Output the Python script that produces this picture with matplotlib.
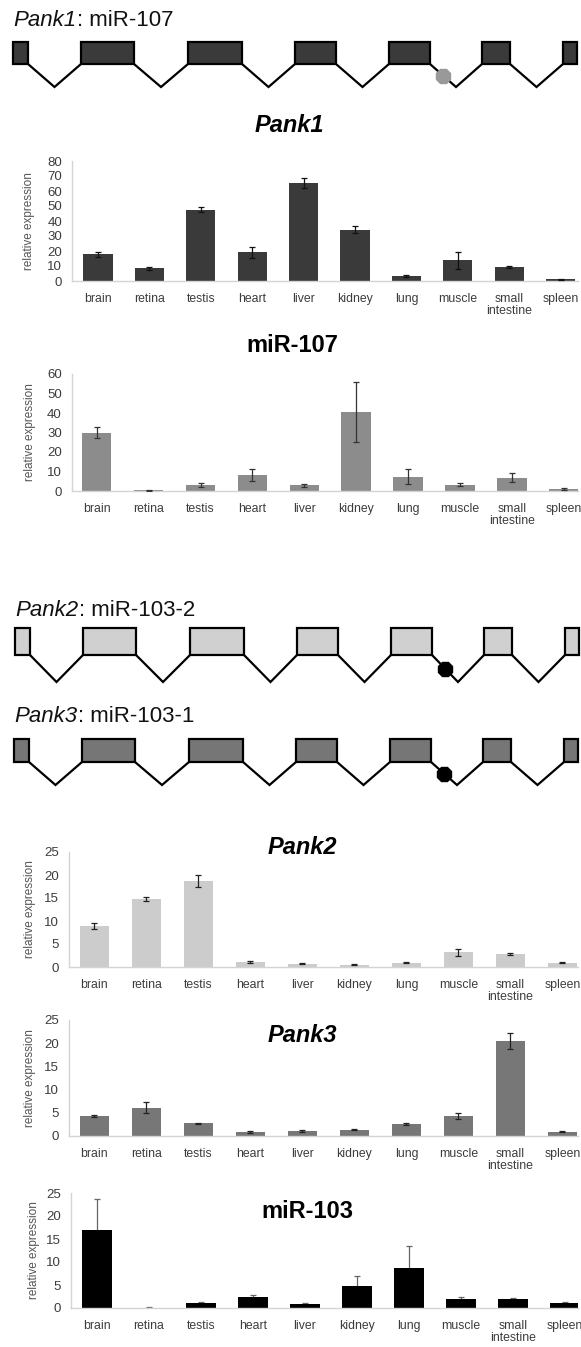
import matplotlib
matplotlib.use('Agg')
import matplotlib.pyplot as plt
from matplotlib.patches import Rectangle
import numpy as np

plt.rcParams['font.family'] = ['Liberation Sans', 'DejaVu Sans']

# data
tissues = ['brain', 'retina', 'testis', 'heart', 'liver', 'kidney', 'lung',
           'muscle', 'small\nintestine', 'spleen']

pank1 = [17.8, 8.6, 47.5, 19.1, 65.5, 34.3, 3.3, 13.8, 9.2, 1.1]
pank1_err = [1.8, 1.0, 1.8, 3.6, 3.3, 2.2, 0.5, 5.7, 0.5, 0.3]

mir107 = [30.0, 0.3, 3.1, 8.1, 2.9, 40.5, 7.4, 3.3, 6.9, 1.0]
mir107_err = [2.9, 0.2, 0.8, 3.1, 0.7, 15.2, 3.9, 0.8, 2.3, 0.3]

pank2 = [8.9, 14.8, 18.6, 1.1, 0.7, 0.45, 0.95, 3.2, 2.8, 0.95]
pank2_err = [0.7, 0.5, 1.3, 0.2, 0.15, 0.1, 0.15, 0.75, 0.2, 0.15]

pank3 = [4.3, 6.05, 2.7, 0.8, 1.1, 1.4, 2.6, 4.25, 20.4, 0.9]
pank3_err = [0.25, 1.2, 0.15, 0.2, 0.2, 0.1, 0.15, 0.6, 1.7, 0.1]

mir103 = [17.0, 0.1, 1.15, 2.5, 0.8, 4.75, 8.7, 2.0, 1.95, 1.0]
mir103_err = [6.6, 0.05, 0.25, 0.4, 0.25, 2.1, 4.7, 0.3, 0.3, 0.25]

# exon boundaries of the gene sketch (pixels)
exons = [(13, 28), (81, 134), (188, 242), (295, 336), (389, 430), (482, 510), (563, 577)]

W, H = 581, 1347
fig = plt.figure(figsize=(W / 100, H / 100), dpi=100)
renderer = fig.canvas.get_renderer()


def px_box(left, top, right, bottom):
    return [left / W, 1 - bottom / H, (right - left) / W, (bottom - top) / H]


# gene diagrams
ax0 = fig.add_axes([0, 0, 1, 1])
ax0.set_xlim(0, W)
ax0.set_ylim(H, 0)
ax0.axis('off')

diagrams = [
    ('Pank1', ': miR-107', 21, 42, 64, 87, 0, '#3a3a3a', '#999999'),
    ('Pank2', ': miR-103-2', 611, 628, 655, 682, 2, '#d0d0d0', '#000000'),
    ('Pank3', ': miR-103-1', 717, 739, 762, 785, 1, '#767676', '#000000'),
]
for gene, mir, ly, top, bot, valley, shift, fill, mcol in diagrams:
    t = fig.text((13 + shift) / W, 1 - ly / H, gene, fontsize=16, fontstyle='italic',
                 va='center', ha='left', color='#111111')
    bb = t.get_window_extent(renderer)
    fig.text(bb.x1 / W + 0.5 / W, 1 - ly / H, mir, fontsize=16, va='center', ha='left',
             color='#111111')
    for s, e in exons:
        ax0.add_patch(Rectangle((s + shift, top), e - s, bot - top, facecolor=fill,
                                edgecolor='black', lw=1.6))
    for i in range(len(exons) - 1):
        a = exons[i][1] + shift
        b = exons[i + 1][0] + shift
        m = (a + b) / 2
        ax0.plot([a, m, b], [bot, valley, bot], color='black', lw=1.6,
                 solid_joinstyle='miter')
        if i == 4:
            ax0.plot((a + m) / 2, (bot + valley) / 2, marker='8', ms=10.5,
                     color=mcol, zorder=5)

# bar charts
charts = [
    (pank1, pank1_err, '#3a3a3a', '#111111', 'Pank1', True, 3),
    (mir107, mir107_err, '#8c8c8c', '#333333', 'miR-107', False, 3),
    (pank2, pank2_err, '#cccccc', '#222222', 'Pank2', True, 3),
    (pank3, pank3_err, '#777777', '#222222', 'Pank3', True, 3),
    (mir103, mir103_err, '#000000', '#666666', 'miR-103', False, 1),
]
# left spine, first centre, spacing, zero line, top, ymax, step, title x, title y, ylabel x
layout = [
    (72, 98, 51.4, 281, 161, 80, 10, 289, 126, 35),
    (71.5, 96.7, 51.9, 491, 374, 60, 10, 292, 345, 36),
    (68.5, 94.4, 52, 967, 852, 25, 5, 302, 847, 36),
    (68.5, 94.4, 52, 1136, 1020, 25, 5, 302, 1036, 36),
    (70.7, 96.7, 52, 1308, 1193, 25, 5, 307, 1212, 40),
]
right = 578
x = np.arange(len(tissues))
for (vals, errs, col, ecol, title, ital, ez), (left, c0, sp, y0, ytop, ymax, step, tx, ty, ylx) in zip(charts, layout):
    ax = fig.add_axes(px_box(left, ytop, right, y0))
    ax.bar(x, vals, width=0.57, color=col, zorder=2)
    ax.errorbar(x, vals, yerr=errs, fmt='none', ecolor=ecol, elinewidth=0.9,
                capsize=2.2, capthick=0.9, zorder=ez)
    ax.set_xlim(-(c0 - left) / sp, (right - c0) / sp)
    ax.set_ylim(0, ymax)
    ax.set_yticks(np.arange(0, ymax + 1, step))
    ax.set_xticks(x)
    ax.set_xticklabels(tissues, fontsize=8.8, color='#3c3c3c', linespacing=1.0)
    ax.tick_params(axis='x', length=0, pad=8.5)
    ax.tick_params(axis='y', length=0, pad=7, labelsize=9.5, labelcolor='#3c3c3c')
    for sp_name in ['top', 'right']:
        ax.spines[sp_name].set_visible(False)
    for sp_name in ['left', 'bottom']:
        ax.spines[sp_name].set_color('#d4d4d4')
        ax.spines[sp_name].set_linewidth(1.0)
    ax.set_ylabel('relative expression', fontsize=8.5, color='#555555')
    ax.yaxis.set_label_coords((ylx - left) / (right - left), 0.5)
    ax.patch.set_alpha(0)
    fig.text(tx / W, 1 - ty / H, title, fontsize=17, fontweight='bold',
             fontstyle='italic' if ital else 'normal', ha='center', va='center')

fig.savefig('out.png', dpi=100)
